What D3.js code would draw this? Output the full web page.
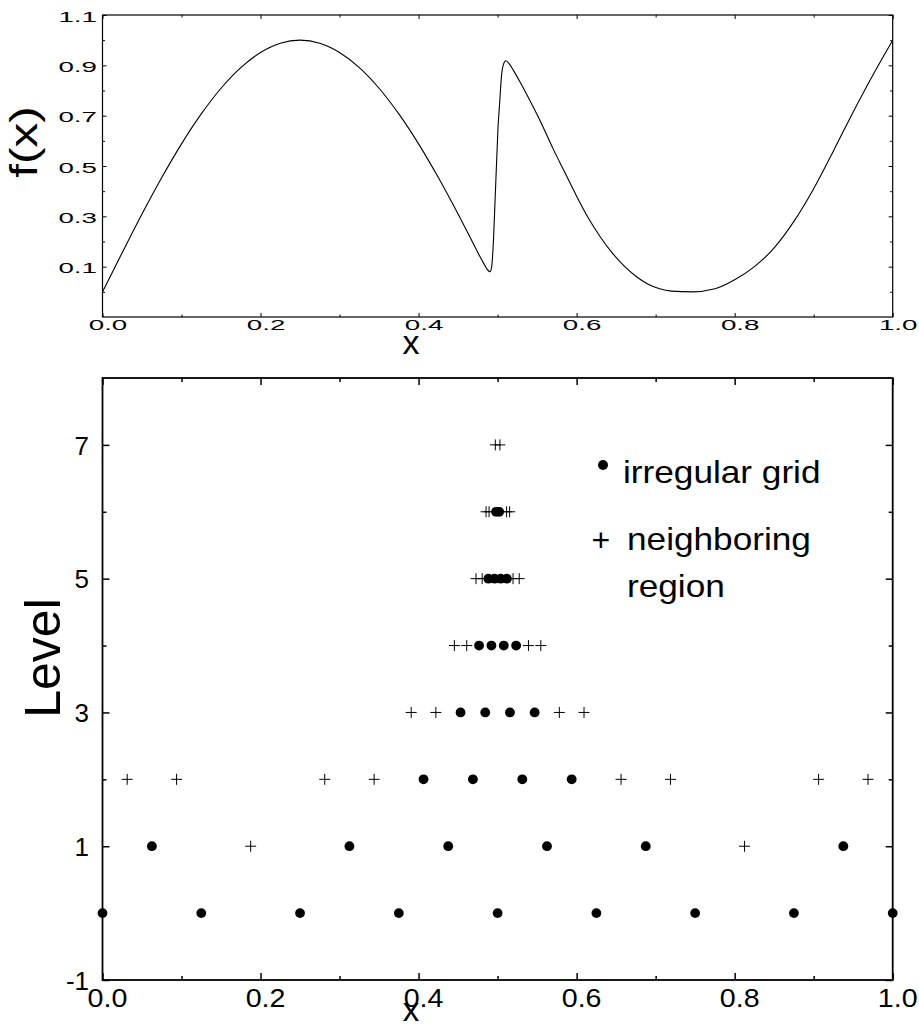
<!DOCTYPE html>
<html>
<head>
<meta charset="utf-8">
<script src="https://cdn.jsdelivr.net/npm/d3@7"></script>
<style>
  html, body { margin: 0; padding: 0; background: #fff; }
  svg { display: block; }
  text { font-family: "Liberation Sans", Arial, Helvetica, sans-serif; fill: #000; }
</style>
</head>
<body>
<script>
// ---- f(x) samples (x, f) ----
const curveX = [0.000, 0.025, 0.050, 0.075, 0.100, 0.125, 0.150, 0.175, 0.200, 0.225, 0.250,
  0.275, 0.300, 0.325, 0.350, 0.375, 0.400, 0.425, 0.450, 0.465, 0.475, 0.482, 0.486, 0.4905,
  0.4925, 0.4947, 0.497, 0.499, 0.5005, 0.5023, 0.5053, 0.5075, 0.5105, 0.515, 0.520, 0.530,
  0.540, 0.555, 0.570, 0.585, 0.600, 0.615, 0.630, 0.645, 0.660, 0.675, 0.690, 0.705, 0.720,
  0.7465, 0.775, 0.800, 0.825, 0.850, 0.875, 0.900, 0.925, 0.950, 0.975, 1.000];
const curveF = [0.000, 0.156, 0.309, 0.454, 0.588, 0.707, 0.809, 0.891, 0.951, 0.988, 1.000,
  0.988, 0.951, 0.891, 0.809, 0.707, 0.588, 0.454, 0.309, 0.218, 0.156, 0.115, 0.093, 0.080,
  0.100, 0.200, 0.380, 0.537, 0.650, 0.737, 0.870, 0.905, 0.918, 0.905, 0.880, 0.825,
  0.765, 0.672, 0.570, 0.475, 0.380, 0.292, 0.218, 0.155, 0.103, 0.062, 0.031, 0.012, 0.003,
  0.000, 0.012, 0.048, 0.100, 0.175, 0.280, 0.410, 0.560, 0.715, 0.862, 1.000];

// ---- grid points per level ----
const levels = [0, 1, 2, 3, 4, 5, 6, 7];
const gridDots = [
  [0, 0.125, 0.25, 0.375, 0.5, 0.625, 0.75, 0.875, 1],
  [0.0625, 0.3125, 0.4375, 0.5625, 0.6875, 0.9375],
  [0.40625, 0.46875, 0.53125, 0.59375],
  [0.453125, 0.484375, 0.515625, 0.546875],
  [0.4765625, 0.4921875, 0.5078125, 0.5234375],
  [0.48828125, 0.49609375, 0.50390625, 0.51171875],
  [0.498046875, 0.501953125],
  []
];
const gridCrosses = [
  [],
  [0.1875, 0.8125],
  [0.03125, 0.09375, 0.28125, 0.34375, 0.65625, 0.71875, 0.90625, 0.96875],
  [0.390625, 0.421875, 0.578125, 0.609375],
  [0.4453125, 0.4609375, 0.5390625, 0.5546875],
  [0.47265625, 0.48046875, 0.51953125, 0.52734375],
  [0.4854, 0.4892, 0.5114, 0.5152],
  [0.4971, 0.5029]
];

// ---- tick values and labels ----
const topXMajor = [0, 0.2, 0.4, 0.6, 0.8, 1.0];
const topXMinor = [0.1, 0.3, 0.5, 0.7, 0.9];
const topYMajor = [0.1, 0.3, 0.5, 0.7, 0.9, 1.1];
const topYMinor = [0.0, 0.2, 0.4, 0.6, 0.8, 1.0];
const botXMajor = [0, 0.2, 0.4, 0.6, 0.8, 1.0];
const botXMinor = [0.1, 0.3, 0.5, 0.7, 0.9];
const botYMajor = [-1, 1, 3, 5, 7];
const botYMinor = [0, 2, 4, 6];
const legendLabels = ["irregular grid", "neighboring", "region"];

const W = 919, H = 1028;
const svg = d3.select("body").append("svg").attr("width", W).attr("height", H);

const xLeft = 102.5, xRight = 892.7;

// ================= upper panel: f(x) =================
const xTop = d3.scaleLinear().domain([0, 1]).range([xLeft, xRight]);
const yTop = d3.scaleLinear().domain([-0.1, 1.1]).range([317, 15]);
const topG = svg.append("g");

function drawTicks(g, axisFn, scale, vals, len, width) {
  const a = g.append("g").call(axisFn(scale).tickValues(vals).tickSize(len).tickFormat(""));
  a.select(".domain").remove();
  a.selectAll(".tick line").attr("stroke", "#000").attr("stroke-width", width);
  return a;
}

function frame(g, x0, x1, y0, y1, sw) {
  g.append("rect").attr("x", x0).attr("y", y1).attr("width", x1 - x0).attr("height", y0 - y1)
    .attr("fill", "none").attr("stroke", "#000").attr("stroke-width", sw);
}

// ticks point inward on every side
const tb = topG.append("g").attr("transform", `translate(0,${yTop.range()[0]})`);
const tbMaj = drawTicks(tb, d3.axisBottom, xTop, topXMajor, -4, 1);
drawTicks(tb, d3.axisBottom, xTop, topXMinor, -2.5, 1);
const tt = topG.append("g").attr("transform", `translate(0,${yTop.range()[1]})`);
drawTicks(tt, d3.axisTop, xTop, topXMajor, -4, 1);
drawTicks(tt, d3.axisTop, xTop, topXMinor, -2.5, 1);
const tl = topG.append("g").attr("transform", `translate(${xLeft},0)`);
const tlMaj = drawTicks(tl, d3.axisLeft, yTop, topYMajor, -4, 1);
drawTicks(tl, d3.axisLeft, yTop, topYMinor, -2.5, 1);
const tr = topG.append("g").attr("transform", `translate(${xRight},0)`);
drawTicks(tr, d3.axisRight, yTop, topYMajor, -4, 1);
drawTicks(tr, d3.axisRight, yTop, topYMinor, -2.5, 1);

tbMaj.selectAll(".tick").append("text")
  .attr("text-anchor", "middle")
  .attr("font-size", 15)
  .attr("transform", "translate(5,13) scale(1.85,1)")
  .text(d => d.toFixed(1));
tlMaj.selectAll(".tick").append("text")
  .attr("text-anchor", "end")
  .attr("font-size", 15)
  .attr("transform", "translate(-5.5,6) scale(1.85,1)")
  .text(d => d.toFixed(1));

frame(topG, xLeft, xRight, yTop.range()[0], yTop.range()[1], 1.2);

const fData = curveX.map((x, i) => ({ x, f: curveF[i] }));
topG.append("path")
  .datum(fData)
  .attr("fill", "none")
  .attr("stroke", "#000")
  .attr("stroke-width", 1.1)
  .attr("d", d3.line().x(d => xTop(d.x)).y(d => yTop(d.f)).curve(d3.curveMonotoneX));

topG.append("text")
  .attr("text-anchor", "middle")
  .attr("font-size", 39)
  .attr("transform", "translate(27,142) rotate(-90) scale(1.27,1)")
  .attr("y", "0.26em")
  .text("f(x)");

topG.append("text")
  .attr("x", 411).attr("y", 354)
  .attr("text-anchor", "middle")
  .attr("font-size", 34)
  .text("x");

// ================= lower panel: grid levels =================
const xBot = d3.scaleLinear().domain([0, 1]).range([xLeft, xRight]);
const yBot = d3.scaleLinear().domain([-1, 8]).range([980, 378]);
const botG = svg.append("g");

const bb = botG.append("g").attr("transform", `translate(0,${yBot.range()[0]})`);
const bbMaj = drawTicks(bb, d3.axisBottom, xBot, botXMajor, -7, 1.5);
drawTicks(bb, d3.axisBottom, xBot, botXMinor, -4, 1.5);
const bt = botG.append("g").attr("transform", `translate(0,${yBot.range()[1]})`);
drawTicks(bt, d3.axisTop, xBot, botXMajor, -7, 1.5);
drawTicks(bt, d3.axisTop, xBot, botXMinor, -4, 1.5);
const bl = botG.append("g").attr("transform", `translate(${xLeft},0)`);
const blMaj = drawTicks(bl, d3.axisLeft, yBot, botYMajor, -7, 1.5);
drawTicks(bl, d3.axisLeft, yBot, botYMinor, -4, 1.5);
const br = botG.append("g").attr("transform", `translate(${xRight},0)`);
drawTicks(br, d3.axisRight, yBot, botYMajor, -7, 1.5);
drawTicks(br, d3.axisRight, yBot, botYMinor, -4, 1.5);

bbMaj.selectAll(".tick").append("text")
  .attr("text-anchor", "middle")
  .attr("font-size", 26)
  .attr("transform", "translate(4.5,26.5) scale(1.1,1)")
  .text(d => d.toFixed(1));
blMaj.selectAll(".tick").append("text")
  .attr("text-anchor", "end")
  .attr("font-size", 26)
  .attr("transform", "translate(-13.5,9.3)")
  .text(d => String(d));

frame(botG, xLeft, xRight, yBot.range()[0], yBot.range()[1], 1.8);

// points of each level
const dotData = [], crossData = [];
levels.forEach((lv, i) => {
  gridDots[i].forEach(x => dotData.push({ x, lv }));
  gridCrosses[i].forEach(x => crossData.push({ x, lv }));
});

const cs = 5.5;
botG.append("g").selectAll("path").data(crossData).join("path")
  .attr("d", d => {
    const cx = xBot(d.x), cy = yBot(d.lv);
    return `M${cx - cs},${cy}H${cx + cs}M${cx},${cy - cs}V${cy + cs}`;
  })
  .attr("stroke", "#000").attr("stroke-width", 1).attr("fill", "none");

botG.append("g").selectAll("circle").data(dotData).join("circle")
  .attr("cx", d => xBot(d.x))
  .attr("cy", d => yBot(d.lv))
  .attr("r", 4.9)
  .attr("fill", "#000");

botG.append("text")
  .attr("text-anchor", "middle")
  .attr("font-size", 50)
  .attr("transform", "translate(60,658) rotate(-90)")
  .text("Level");

botG.append("text")
  .attr("x", 411).attr("y", 1021)
  .attr("text-anchor", "middle")
  .attr("font-size", 33)
  .text("x");

// legend
const lg = botG.append("g");
lg.append("circle").attr("cx", 603).attr("cy", 465).attr("r", 5).attr("fill", "#000");
lg.append("text").attr("x", 591.5).attr("y", 550.5).attr("font-size", 32).text("+");
const legPos = [[623, 483], [627, 550], [627, 597]];
legendLabels.forEach((t, i) => {
  lg.append("text")
    .attr("font-size", 32)
    .attr("transform", `translate(${legPos[i][0]},${legPos[i][1]}) scale(1.1,1)`)
    .text(t);
});
</script>
</body>
</html>
